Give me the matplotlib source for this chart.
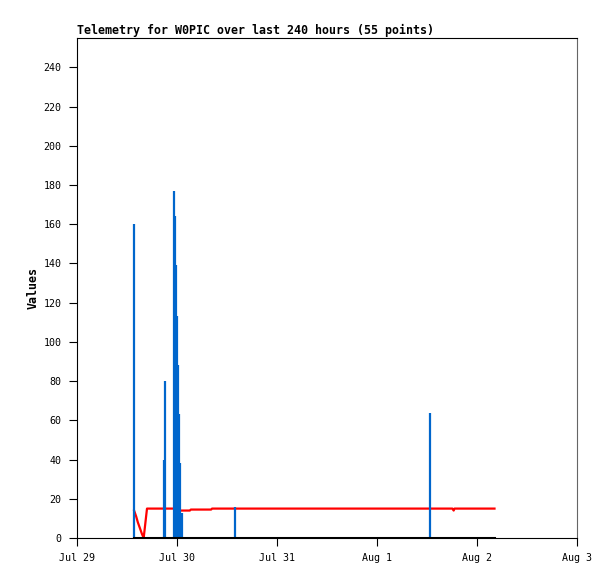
import datetime as dt
import matplotlib
matplotlib.use("Agg")
import matplotlib.pyplot as plt
import matplotlib.dates as mdates

# hours after Jul 29 00:00 for each sample
hours = [13.7, 14.2, 14.6, 15.1, 15.6, 16.0, 16.8, 21.0, 21.2, 23.3,
         23.5, 23.8, 24.0, 24.2, 24.5, 24.7, 25.1, 27.1, 27.3, 32.2,
         32.4, 38.0, 43.8, 51.0, 58.2, 65.4, 72.6, 79.8, 84.6, 90.1,
         90.4, 90.6, 95.4, 100.2]
red_vals = [14, 11, 8, 5, 2, 0, 15, 15, 15, 15,
            14, 14, 14, 14, 14, 14, 14, 14, 14.5, 14.5,
            15, 15, 15, 15, 15, 15, 15, 15, 15, 15,
            14, 15, 15, 15]
blue_vals = [160, 0, 0, 0, 0, 0, 0, 40, 80, 177,
             164, 139, 113, 88, 63, 38, 13, 0, 0, 0,
             0, 16, 0, 0, 0, 0, 0, 0, 64, 0,
             0, 0, 0, 0]
black_vals = [0] * len(hours)

start = dt.datetime(2024, 7, 29)
times = [start + dt.timedelta(hours=h) for h in hours]

mono = "DejaVu Sans Mono"
fig = plt.figure(figsize=(6.15, 5.79), dpi=100)
ax = fig.add_axes([77 / 615, 41 / 579, 500 / 615, 500 / 579])

ax.plot(times, red_vals, color="#ff0000", lw=1.6, zorder=2)
ax.vlines(times, 0, blue_vals, color="#0066cc", lw=1.6, zorder=3)
ax.plot(times, black_vals, color="black", lw=2.2, zorder=4)

ax.set_xlim(start, start + dt.timedelta(days=5))
ax.set_ylim(0, 255)
ax.set_yticks(range(0, 241, 20))
ax.xaxis.set_major_locator(mdates.DayLocator())
ax.xaxis.set_major_formatter(
    plt.FuncFormatter(lambda v, p: mdates.num2date(v).strftime("%b ") + str(mdates.num2date(v).day)))

ax.tick_params(direction="out", length=6, width=0.8, labelsize=7.2, pad=5)
for lab in ax.get_xticklabels() + ax.get_yticklabels():
    lab.set_family(mono)

for s in ax.spines.values():
    s.set_linewidth(0.8)
ax.spines["right"].set_color("#666666")

ax.set_title("Telemetry for W0PIC over last 240 hours (55 points)", loc="left",
             family=mono, fontweight="bold", fontsize=8.4, pad=3)
ax.set_ylabel("Values", family=mono, fontweight="bold", fontsize=8.4, labelpad=3)

fig.savefig("out.png", dpi=100)
